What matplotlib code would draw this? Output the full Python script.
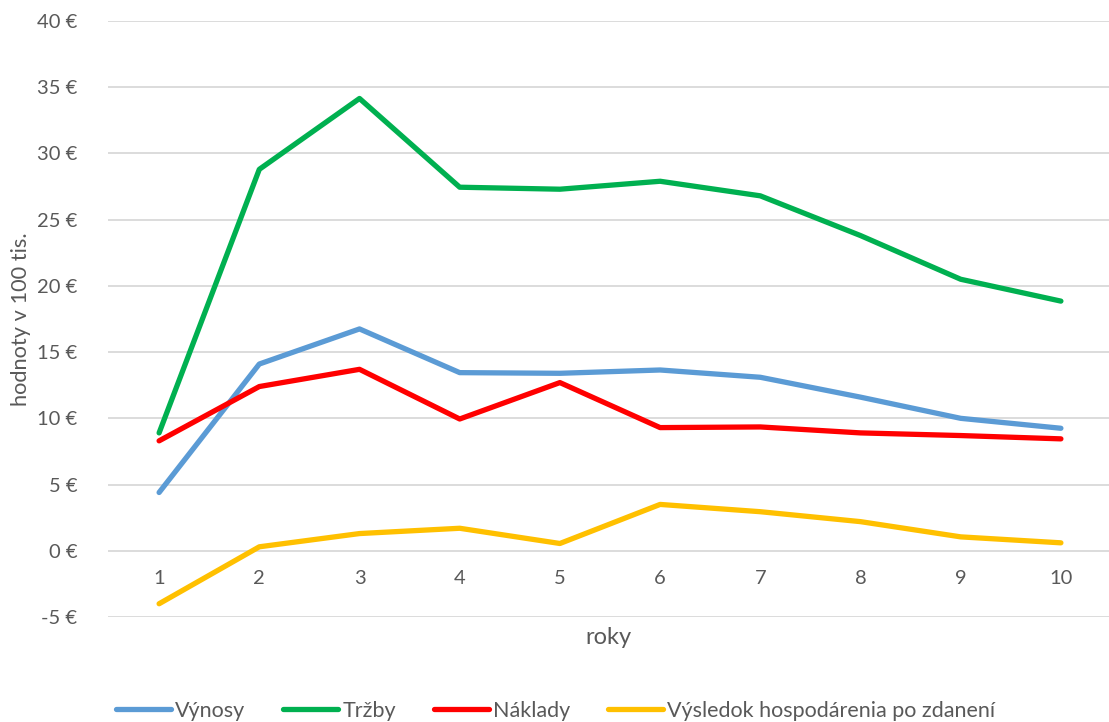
import matplotlib.pyplot as plt
import numpy as np

plt.rcParams['font.family'] = ['Lato', 'DejaVu Sans']

roky = [1, 2, 3, 4, 5, 6, 7, 8, 9, 10]
vynosy = [4.4, 14.1, 16.75, 13.45, 13.4, 13.65, 13.1, 11.6, 10.0, 9.25]
trzby = [8.9, 28.8, 34.15, 27.45, 27.3, 27.9, 26.8, 23.8, 20.5, 18.85]
naklady = [8.3, 12.4, 13.7, 9.95, 12.7, 9.3, 9.35, 8.9, 8.7, 8.45]
vysledok = [-4.0, 0.3, 1.3, 1.7, 0.55, 3.5, 2.95, 2.2, 1.05, 0.6]

series = [
    ('Výnosy', vynosy, '#5B9BD5'),
    ('Tržby', trzby, '#00B050'),
    ('Náklady', naklady, '#FF0000'),
    ('Výsledok hospodárenia po zdanení', vysledok, '#FFC000'),
]

txt = '#595959'

fig = plt.figure(figsize=(11.09, 7.22), dpi=100)
ax = fig.add_axes([108 / 1109, 1 - 617 / 722, (1109 - 108) / 1109, (617 - 21) / 722])

for name, vals, col in series:
    ax.plot(roky, vals, color=col, lw=3.8, solid_capstyle='round',
            solid_joinstyle='round', label=name, zorder=3)

ax.set_xlim(0.49, 10.48)
ax.set_ylim(-5, 40)
ax.set_yticks(np.arange(-5, 41, 5))
ax.set_yticklabels([f'{v} €' for v in range(-5, 41, 5)])
ax.grid(axis='y', color='#D9D9D9', lw=1.3)
ax.set_axisbelow(True)
for s in ax.spines.values():
    s.set_visible(False)

ax.set_xticks(roky)
ax.set_xticklabels([str(r) for r in roky])
ax.tick_params(axis='x', length=0, pad=-34, labelsize=14.5, labelcolor=txt)
ax.tick_params(axis='y', length=0, pad=22, labelsize=14.5, labelcolor=txt)

ax.set_xlabel('roky', fontsize=17, color=txt)
ax.xaxis.set_label_coords(0.5, -(638 - 617) / 596, transform=ax.transAxes)
ax.xaxis.label.set_va('center')
ax.set_ylabel('hodnoty v 100 tis.', fontsize=15.7, color=txt)
ax.yaxis.set_label_coords(-77 / 1001, 0.5)

leg = fig.legend(loc='center left', bbox_to_anchor=(116 / 1109, 1 - 711 / 722),
                 ncol=4, frameon=False, fontsize=15.5, handlelength=2.55,
                 handletextpad=0.2, columnspacing=1.75, labelcolor=txt,
                 borderpad=0, borderaxespad=0)

fig.savefig('out.png', dpi=100)
